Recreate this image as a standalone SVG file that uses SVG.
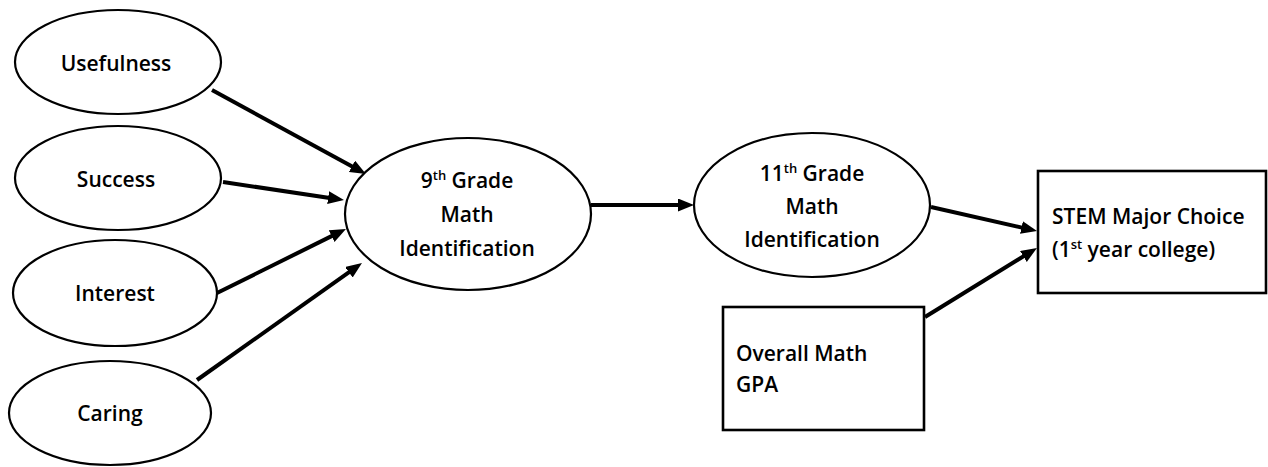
<svg xmlns="http://www.w3.org/2000/svg" width="1268" height="467" viewBox="0 0 1268 467">
  <style>
    .shape { fill: #ffffff; stroke: #000000; stroke-width: 2.2; }
    .box { fill: #ffffff; stroke: #000000; stroke-width: 2.6; }
    .label { font-family: "Open Sans", "Liberation Sans", sans-serif; font-weight: 600; font-size: 21px; fill: #000000; }
    .mid { text-anchor: middle; }
    .sup { font-size: 13px; }
    .edge { stroke: #000000; stroke-width: 4; fill: none; marker-end: url(#head); }
  </style>
  <defs>
    <marker id="head" markerUnits="userSpaceOnUse" markerWidth="18" markerHeight="14" refX="5" refY="6.5" orient="auto">
      <path d="M0,0 L16,6.5 L0,13 z" fill="#000000"/>
    </marker>
  </defs>

  <g id="connectors">
    <line class="edge" x1="212" y1="90" x2="356.3" y2="168.7"/>
    <line class="edge" x1="223" y1="182" x2="333.1" y2="198.4"/>
    <line class="edge" x1="217" y1="293" x2="336.1" y2="233.9"/>
    <line class="edge" x1="197" y1="380" x2="353.0" y2="269.4"/>
    <line class="edge" x1="591" y1="205" x2="683" y2="205"/>
    <line class="edge" x1="931" y1="207" x2="1026.3" y2="228.6"/>
    <line class="edge" x1="925" y1="317" x2="1027.6" y2="253.8"/>
  </g>

  <g id="usefulness">
    <ellipse class="shape" cx="118" cy="62" rx="103" ry="52"/>
    <text class="label mid" x="116" y="71">Usefulness</text>
  </g>
  <g id="success">
    <ellipse class="shape" cx="118" cy="178" rx="103" ry="52"/>
    <text class="label mid" x="116" y="187">Success</text>
  </g>
  <g id="interest">
    <ellipse class="shape" cx="115" cy="293" rx="102" ry="53"/>
    <text class="label mid" x="115" y="301">Interest</text>
  </g>
  <g id="caring">
    <ellipse class="shape" cx="110" cy="413" rx="101" ry="52"/>
    <text class="label mid" x="110" y="421">Caring</text>
  </g>

  <g id="grade9">
    <ellipse class="shape" cx="468" cy="214" rx="123" ry="76"/>
    <text class="label mid" x="467" y="188">9<tspan class="sup" dy="-8">th</tspan><tspan dy="8"> Grade</tspan></text>
    <text class="label mid" x="467" y="222">Math</text>
    <text class="label mid" x="467" y="256">Identification</text>
  </g>

  <g id="grade11">
    <ellipse class="shape" cx="812" cy="205" rx="118" ry="72"/>
    <text class="label mid" x="812" y="181">11<tspan class="sup" dy="-8">th</tspan><tspan dy="8"> Grade</tspan></text>
    <text class="label mid" x="812" y="214">Math</text>
    <text class="label mid" x="812" y="247">Identification</text>
  </g>

  <g id="stem-choice">
    <rect class="box" x="1038" y="171" width="228" height="122"/>
    <text class="label" x="1052" y="224">STEM Major Choice</text>
    <text class="label" x="1052" y="257">(1<tspan class="sup" dy="-8">st</tspan><tspan dy="8"> year college)</tspan></text>
  </g>

  <g id="math-gpa">
    <rect class="box" x="723" y="307" width="201" height="123"/>
    <text class="label" x="736" y="361">Overall Math</text>
    <text class="label" x="736" y="392">GPA</text>
  </g>
</svg>
